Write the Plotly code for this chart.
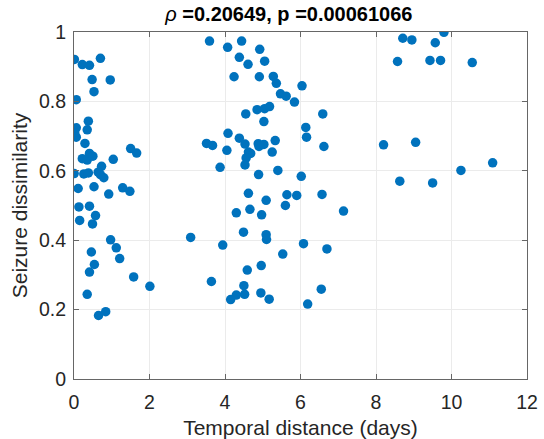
import plotly.graph_objects as go

# Temporal distance (days)
x_days = [
    0.01, 0.22, 0.41, 0.70, 0.48, 0.96, 0.53, 0.06, 0.38, 0.35, 0.06, 0.02, 0.06, 0.29,
    1.50, 1.66, 0.22, 0.41, 0.35, 0.50, 1.04, 0.73, 0.005, 0.26, 0.38, 0.64, 0.70, 0.79,
    0.11, 0.53, 0.92, 1.29, 1.48,
    0.13, 0.41, 0.57, 0.15, 0.49, 0.97, 1.12, 1.21, 0.46, 0.54, 0.41, 1.58, 2.01, 0.35,
    0.65, 0.84,
    3.59, 4.07, 4.44, 4.92, 4.38, 4.61, 5.05, 4.24, 4.91, 5.28, 5.36, 6.04, 5.47, 5.62,
    5.84, 4.55, 4.85, 5.05, 5.18, 5.03, 6.59, 4.08, 6.14, 6.16, 4.38, 5.33, 3.51, 3.67,
    4.53, 4.88, 4.90, 5.03, 6.62, 4.05, 5.25, 4.62, 4.68, 4.56, 4.53, 3.87, 4.89, 5.40,
    6.02, 4.62, 5.09, 5.64, 5.90, 6.57,
    5.60, 4.30, 4.66, 4.97, 3.09, 3.94, 4.49, 5.09, 5.10, 6.08, 6.70, 5.53, 4.59, 4.96,
    3.64, 4.50, 4.30, 4.15, 4.52, 4.95, 5.17, 6.55, 6.19,
    9.80, 8.71, 8.95, 9.57, 8.57, 9.43, 9.71, 10.55, 8.20, 9.05, 11.09, 10.25, 8.63,
    9.50, 7.14,
]

# Seizure dissimilarity
y_dissim = [
    0.921, 0.906, 0.904, 0.924, 0.863, 0.862, 0.828, 0.805, 0.743, 0.718, 0.724, 0.709,
    0.697, 0.679, 0.664, 0.651, 0.635, 0.650, 0.631, 0.642, 0.633, 0.613, 0.592, 0.591,
    0.594, 0.596, 0.589, 0.580, 0.549, 0.554, 0.533, 0.551, 0.541,
    0.496, 0.498, 0.471, 0.457, 0.447, 0.401, 0.378, 0.347, 0.366, 0.330, 0.308, 0.294,
    0.267, 0.244, 0.183, 0.194,
    0.974, 0.956, 0.974, 0.950, 0.927, 0.907, 0.916, 0.871, 0.871, 0.872, 0.852, 0.845,
    0.822, 0.815, 0.798, 0.764, 0.776, 0.779, 0.785, 0.742, 0.764, 0.708, 0.725, 0.697,
    0.694, 0.687, 0.679, 0.673, 0.677, 0.678, 0.670, 0.676, 0.670, 0.659, 0.654, 0.654,
    0.650, 0.637, 0.617, 0.610, 0.589, 0.601, 0.584, 0.535, 0.515, 0.531, 0.529, 0.532,
    0.500, 0.479, 0.489, 0.473, 0.408, 0.386, 0.423, 0.416, 0.402, 0.390, 0.375, 0.360,
    0.314, 0.327, 0.281, 0.269, 0.242, 0.229, 0.244, 0.248, 0.230, 0.259, 0.216,
    0.999, 0.982, 0.977, 0.969, 0.915, 0.918, 0.918, 0.912, 0.675, 0.682, 0.623, 0.601,
    0.570, 0.565, 0.484,
]

x_ticks = [0, 2, 4, 6, 8, 10, 12]
y_ticks = [0, 0.2, 0.4, 0.6, 0.8, 1]
y_tick_text = ["0", "0.2", "0.4", "0.6", "0.8", "1"]

title_text = "<i>ρ</i> <b>=0.20649, p =0.00061066</b>"
x_label = "Temporal distance (days)"
y_label = "Seizure dissimilarity"

FONT = "Liberation Sans, Arial"

fig = go.Figure(go.Scatter(
    x=x_days, y=y_dissim, mode="markers",
    marker=dict(color="#0072BD", size=9.5, line=dict(width=0)),
    showlegend=False,
))

axis_common = dict(
    showline=True, linecolor="#666666", linewidth=1, mirror="ticks",
    ticks="inside", ticklen=5, tickcolor="#666666",
    showgrid=True, gridcolor="#ebebeb", gridwidth=1,
    zeroline=False, automargin=False,
    tickfont=dict(family=FONT, size=19.5, color="#262626"),
)

fig.update_layout(
    width=544, height=439,
    margin=dict(l=74, r=17, t=32, b=60, autoexpand=False),
    paper_bgcolor="white", plot_bgcolor="white",
    title=dict(text=title_text, x=0.531, xanchor="center", y=0.968, yanchor="middle",
               font=dict(family=FONT, size=20, color="black")),
    xaxis=dict(range=[0, 12], tickvals=x_ticks, ticklabelstandoff=6,
               title=dict(text=x_label, standoff=9,
                          font=dict(family=FONT, size=21, color="#262626")),
               **axis_common),
    yaxis=dict(range=[0, 1], tickvals=y_ticks, ticktext=y_tick_text, ticklabelstandoff=3,
               title=dict(text=y_label, standoff=5,
                          font=dict(family=FONT, size=21, color="#262626")),
               **axis_common),
)

fig.write_html("out.html")
